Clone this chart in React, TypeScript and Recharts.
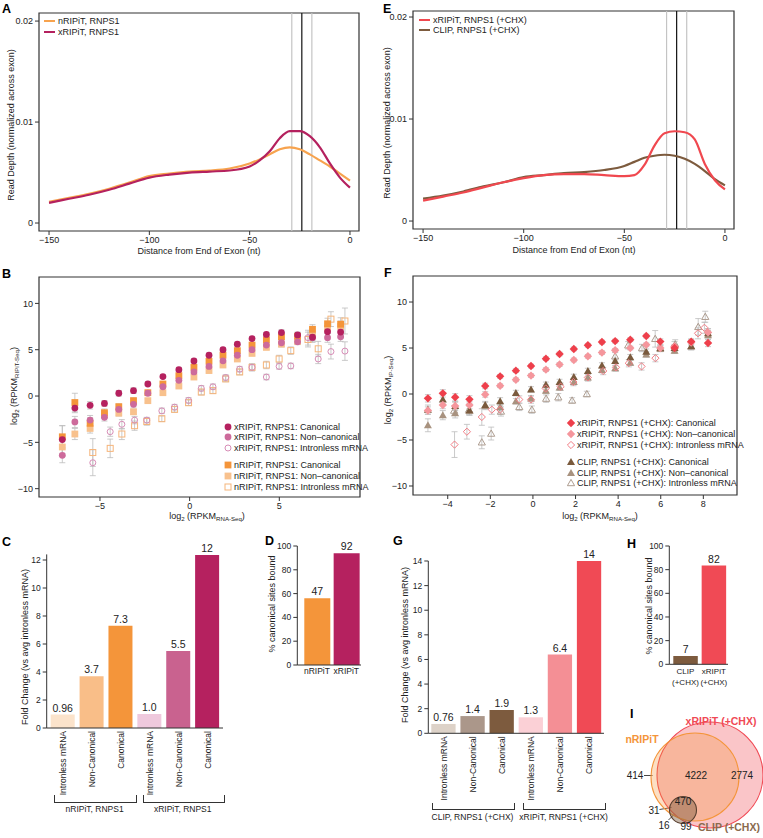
import React from "react";
import {
  LineChart,
  Line,
  XAxis,
  YAxis,
  ReferenceLine,
  ReferenceArea,
  ScatterChart,
  Scatter,
  ErrorBar,
  BarChart,
  Bar,
  Cell,
  LabelList,
} from "recharts";

const FONT = "'Liberation Sans', Arial, Helvetica, sans-serif";
const INK = "#222";

// ---- A / E: read depth near exon end ----
const distX = [-150, -140, -130, -120, -110, -100, -90, -80, -70, -60, -50, -45, -40, -35, -30, -25, -20, -15, -10, -5, 0];
const aNRipit = [0.0021, 0.0025, 0.0029, 0.0034, 0.004, 0.00465, 0.0049, 0.0051, 0.0052, 0.0054, 0.0059, 0.0063, 0.0068, 0.0073, 0.0075, 0.0073, 0.0068, 0.0062, 0.0056, 0.0049, 0.0042];
const aXRipit = [0.002, 0.0024, 0.0028, 0.0033, 0.0039, 0.0045, 0.0048, 0.005, 0.0051, 0.0052, 0.0056, 0.0062, 0.0071, 0.0084, 0.0091, 0.0091, 0.0086, 0.0075, 0.0059, 0.0045, 0.0035];
const eXRipit = [0.002, 0.0024, 0.0028, 0.0033, 0.0038, 0.0042, 0.0045, 0.0046, 0.0046, 0.0045, 0.0044, 0.0045, 0.0055, 0.0074, 0.0086, 0.0088, 0.0087, 0.008, 0.0056, 0.004, 0.0031];
const eClip = [0.0022, 0.0025, 0.0029, 0.0034, 0.0038, 0.0043, 0.0045, 0.0047, 0.0048, 0.005, 0.0054, 0.0058, 0.0062, 0.0064, 0.0065, 0.0064, 0.0061, 0.0056, 0.0049, 0.0041, 0.0035];
const boundaryX = [-29, -24, -19];
const boundaryColors = ["#c4c4c4", "#111", "#c4c4c4"];
const depthTicksX = [-150, -100, -50, 0];
const depthTicksY = [0, 0.01, 0.02];

// ---- B: xRIPiT / nRIPiT vs RNA-Seq ----
const bBinX = [-7.1, -6.4, -5.55, -4.75, -3.95, -3.13, -2.33, -1.49, -0.6, 0.24, 1.08, 1.86, 2.66, 3.48, 4.28, 5.12, 6.02, 6.85, 7.69, 8.42];
const bXCanonY = [-4.7, -1.3, -1.0, -0.8, 0.3, 0.58, 1.3, 2.1, 2.85, 3.78, 4.4, 5.0, 5.6, 6.2, 6.65, 6.85, 6.6, 6.35, 6.95, 6.9];
const bXCanonErr = [1.5, 0.5, 0.4, 0.3, 0.3, 0.3, 0.2, 0.2, 0.2, 0.2, 0.2, 0.2, 0.2, 0.2, 0.2, 0.3, 0.3, 0.5, 0.5, 0.6];
const bXNonY = [-6.4, -2.8, -2.6, -2.3, -1.45, -0.9, 0.3, 1.0, 1.7, 2.6, 3.2, 3.8, 4.4, 5.0, 5.5, 5.75, 5.85, 6.3, 6.3, 6.4];
const bXNonErr = [0.8, 0.6, 0.5, 0.4, 0.3, 0.3, 0.2, 0.2, 0.2, 0.2, 0.2, 0.2, 0.2, 0.2, 0.2, 0.3, 0.3, 0.5, 0.5, 0.5];
const bNCanonY = [-4.4, -0.7, -2.95, -1.8, -1.15, -0.5, 0.36, 1.3, 2.2, 3.1, 3.75, 4.4, 4.9, 5.5, 6.05, 6.4, 6.45, 7.2, 7.8, 7.75];
const bNCanonErr = [1.2, 1.0, 0.6, 0.4, 0.3, 0.3, 0.2, 0.2, 0.2, 0.2, 0.2, 0.2, 0.2, 0.2, 0.3, 0.3, 0.4, 0.5, 0.6, 0.7];
const bNNonY = [-5.5, -4.1, -3.5, -2.0, -1.85, -1.7, -0.5, 0.36, 1.08, 2.05, 2.75, 3.35, 4.0, 4.6, 5.25, 5.6, 5.9, 6.5, 7.3, 7.5];
const bNNonErr = [1.0, 0.6, 0.5, 0.4, 0.3, 0.3, 0.2, 0.2, 0.2, 0.2, 0.2, 0.2, 0.2, 0.2, 0.2, 0.3, 0.3, 0.5, 0.5, 0.6];
const bIntronX = [-5.4, -4.43, -3.78, -3.07, -2.39, -1.55, -0.84, -0.06, 0.65, 1.3, 2.01, 2.79, 3.48, 4.28, 4.99, 5.64, 6.6, 7.17, 7.88, 8.66];
const bXIntronY = [-7.2, -3.85, -3.05, -2.6, -2.6, -1.6, -1.2, -0.47, 0.83, 1.0, 2.0, 2.9, 3.1, 2.05, 3.2, 3.25, 6.3, 4.0, 4.8, 4.85];
const bXIntronErr = [1.4, 0.5, 0.5, 0.4, 0.3, 0.3, 0.3, 0.3, 0.3, 0.3, 0.3, 0.3, 0.3, 0.3, 0.3, 0.3, 0.8, 0.5, 0.8, 1.0];
const bNIntronY = [-6.1, -5.65, -4.1, -3.2, -2.75, -2.45, -1.44, -0.72, 0.43, 0.58, 1.85, 2.6, 3.1, 3.35, 4.0, 4.9, 6.1, 5.1, 8.3, 8.1];
const bNIntronErr = [1.5, 1.0, 0.6, 0.5, 0.4, 0.3, 0.3, 0.3, 0.3, 0.3, 0.3, 0.3, 0.4, 0.4, 0.4, 0.4, 0.8, 0.8, 0.8, 1.4];

// ---- F: xRIPiT / CLIP (+CHX) vs RNA-Seq ----
const fBinX = [-4.93, -4.23, -3.65, -2.98, -2.24, -1.54, -0.8, -0.09, 0.61, 1.25, 1.92, 2.58, 3.24, 3.86, 4.57, 5.32, 5.98, 6.65, 7.43, 8.22];
const fXCanonY = [-0.47, 0.07, -0.36, -0.58, 0.87, 1.92, 2.54, 3.04, 3.84, 4.35, 4.9, 5.3, 5.65, 5.75, 5.9, 6.3, 5.7, 5.0, 5.7, 5.55];
const fXCanonErr = [0.4, 0.4, 0.4, 0.4, 0.3, 0.2, 0.2, 0.2, 0.2, 0.2, 0.2, 0.2, 0.2, 0.2, 0.2, 0.2, 0.3, 0.3, 0.3, 0.4];
const fXNonY = [-1.8, -1.2, -1.3, -1.2, -0.05, 0.9, 1.55, 2.0, 2.65, 3.2, 3.7, 4.1, 4.5, 4.75, 5.0, 5.35, 5.0, 5.1, 5.6, 6.7];
const fXNonErr = [0.4, 0.4, 0.4, 0.4, 0.3, 0.2, 0.2, 0.2, 0.2, 0.2, 0.2, 0.2, 0.2, 0.2, 0.2, 0.2, 0.3, 0.3, 0.3, 0.4];
const fCCanonY = [-1.7, -0.6, -1.3, -1.8, -1.2, -0.8, 0.1, 0.5, 1.0, 1.3, 1.85, 2.5, 3.1, 3.6, 4.0, 4.6, 5.0, 5.0, 5.2, 6.6];
const fCCanonErr = [0.5, 0.5, 0.5, 0.5, 0.4, 0.4, 0.3, 0.3, 0.3, 0.3, 0.3, 0.3, 0.3, 0.3, 0.3, 0.3, 0.3, 0.3, 0.4, 0.5];
const fCNonY = [-3.4, -2.3, -2.1, -1.8, -1.3, -1.4, -0.8, -0.5, 0.35, 0.7, 1.3, 1.8, 2.6, 2.8, 3.4, 4.3, 4.9, 4.7, 5.2, 6.4];
const fCNonErr = [0.7, 0.5, 0.5, 0.5, 0.4, 0.4, 0.3, 0.3, 0.3, 0.3, 0.3, 0.3, 0.3, 0.3, 0.3, 0.3, 0.3, 0.3, 0.4, 0.5];
const fXIntronX = [-3.68, -3.1, -2.4, -1.93, -1.54, -0.64, -0.09, 0.6, 1.3, 1.9, 2.58, 3.3, 3.9, 4.5, 5.1, 5.75, 6.65, 7.75, 8.05];
const fXIntronY = [-5.5, -4.1, -2.5, -1.7, -1.7, -0.6, -0.6, 0.6, 0.8, 1.3, 1.8, 2.5, 2.9, 3.35, 3.0, 3.9, 5.2, 6.6, 7.2];
const fXIntronErr = [1.4, 0.8, 0.9, 0.5, 0.5, 0.4, 0.4, 0.4, 0.4, 0.4, 0.4, 0.4, 0.4, 0.4, 0.4, 0.4, 0.5, 0.6, 0.6];
const fCIntronX = [-3.7, -3.0, -2.4, -1.96, -1.5, -0.64, -0.05, 0.62, 1.19, 1.84, 2.53, 3.86, 4.47, 5.12, 5.74, 6.68, 7.76, 8.09];
const fCIntronY = [-1.8, -1.7, -5.25, -4.3, -1.9, -1.4, -1.7, -0.5, -0.35, -0.7, 0.0, 4.1, 5.3, 5.0, 6.0, 5.4, 7.3, 8.4];
const fCIntronErr = [0.5, 0.5, 0.7, 0.7, 0.5, 0.4, 0.4, 0.4, 0.4, 0.3, 0.3, 0.4, 0.4, 0.4, 0.9, 0.5, 0.9, 0.6];

// ---- C / G: fold change bars ----
const foldCats = ["Intronless mRNA", "Non-Canonical", "Canonical", "Intronless mRNA", "Non-Canonical", "Canonical"];
const cValues = [0.96, 3.7, 7.3, 1.0, 5.5, 12.36];
const cLabels = ["0.96", "3.7", "7.3", "1.0", "5.5", "12"];
const cColors = ["#fbe3cb", "#f9be88", "#f4953a", "#efc9dd", "#c9628f", "#b5215f"];
const cTicks = [0, 2, 4, 6, 8, 10, 12];
const gValues = [0.76, 1.4, 1.9, 1.3, 6.4, 14];
const gLabels = ["0.76", "1.4", "1.9", "1.3", "6.4", "14"];
const gColors = ["#ddd2c8", "#ab978a", "#7d5b3e", "#fbd0d6", "#f48f95", "#f04a55"];
const gTicks = [0, 2, 4, 6, 8, 10, 12, 14];

// ---- D / H: % canonical sites bound ----
const dCats = ["nRIPiT", "xRIPiT"];
const dValues = [56, 94];
const dLabels = ["47", "92"];
const dColors = ["#f4953a", "#b5215f"];
const hCats = ["CLIP|(+CHX)", "xRIPiT|(+CHX)"];
const hValues = [7.1, 83.5];
const hLabels = ["7", "82"];
const hColors = ["#7d5b3e", "#f04a55"];
const pctTicks = [0, 20, 40, 60, 80, 100];

// ---- I: Venn ----
const vennNames = ["xRIPiT (+CHX)", "nRIPiT", "CLIP (+CHX)"];
const vennCX = [90, 75, 63];
const vennCY = [75, 77, 110];
const vennR = [53, 44, 13.5];
const vennFill = ["#f04a55", "#f4953a", "#7d5b3e"];
const vennStroke = ["#f04a55", "#f4953a", "#5a4030"];
const vennText = ["#f04a55", "#f4953a", "#8a6a4e"];
const vennFillOp = [0.32, 0.3, 0.45];
const vennNameX = [101, 22, 109];
const vennNameY = [21, 39, 126.5];
const vennCounts = ["414", "4222", "2774", "470", "31", "16", "99"];
const vennCountX = [15, 76, 122, 63, 34, 44, 66];
const vennCountY = [75.5, 75.5, 75.5, 101, 110, 125, 126];
const vennLeaders = [
  [24, 75.5, 32.5, 75.5],
  [39.5, 109.5, 51.5, 107.5],
  [48.5, 120, 54, 114.5],
  [66, 120.5, 63.5, 123.5],
];

const minus = (v: number) => String(v).replace("-", "\u2212");
const tickStyle = { fontSize: 9, fill: INK, fontFamily: FONT };

type Kind = "circle" | "ocircle" | "square" | "osquare" | "diamond" | "odiamond" | "triangle" | "otriangle";

function Marker({ kind, color, cx, cy }: { kind: Kind; color: string; cx: number; cy: number }) {
  const open = kind.startsWith("o");
  const fill = open ? "none" : color;
  const stroke = open ? color : "none";
  const sw = open ? 1 : 0;
  if (kind === "circle" || kind === "ocircle") {
    return <circle cx={cx} cy={cy} r={open ? 3 : 3.4} fill={fill} stroke={stroke} strokeWidth={sw} />;
  }
  if (kind === "square" || kind === "osquare") {
    const h = open ? 3 : 3.4;
    return <rect x={cx - h} y={cy - h} width={2 * h} height={2 * h} fill={fill} stroke={stroke} strokeWidth={sw} />;
  }
  if (kind === "diamond" || kind === "odiamond") {
    const h = open ? 3.6 : 4.2;
    return <path d={`M${cx},${cy - h}L${cx + h},${cy}L${cx},${cy + h}L${cx - h},${cy}Z`} fill={fill} stroke={stroke} strokeWidth={sw} />;
  }
  const h = open ? 3.6 : 4;
  return <path d={`M${cx},${cy - h}L${cx + h},${cy + h * 0.75}L${cx - h},${cy + h * 0.75}Z`} fill={fill} stroke={stroke} strokeWidth={sw} />;
}

type Series = { name: string; kind: Kind; color: string; xs: number[]; ys: number[]; es: number[] };

const bSeries: Series[] = [
  { name: "xRIPiT, RNPS1: Canonical", kind: "circle", color: "#b5215f", xs: bBinX, ys: bXCanonY, es: bXCanonErr },
  { name: "xRIPiT, RNPS1: Non\u2013canonical", kind: "circle", color: "#cd6a9b", xs: bBinX, ys: bXNonY, es: bXNonErr },
  { name: "xRIPiT, RNPS1: Intronless mRNA", kind: "ocircle", color: "#d78cb6", xs: bIntronX, ys: bXIntronY, es: bXIntronErr },
  { name: "nRIPiT, RNPS1: Canonical", kind: "square", color: "#f4953a", xs: bBinX, ys: bNCanonY, es: bNCanonErr },
  { name: "nRIPiT, RNPS1: Non\u2013canonical", kind: "square", color: "#f8c18d", xs: bBinX, ys: bNNonY, es: bNNonErr },
  { name: "nRIPiT, RNPS1: Intronless mRNA", kind: "osquare", color: "#f6b57a", xs: bIntronX, ys: bNIntronY, es: bNIntronErr },
];

const fSeries: Series[] = [
  { name: "xRIPiT, RNPS1 (+CHX): Canonical", kind: "diamond", color: "#ee3f4b", xs: fBinX, ys: fXCanonY, es: fXCanonErr },
  { name: "xRIPiT, RNPS1 (+CHX): Non\u2013canonical", kind: "diamond", color: "#f5969c", xs: fBinX, ys: fXNonY, es: fXNonErr },
  { name: "xRIPiT, RNPS1 (+CHX): Intronless mRNA", kind: "odiamond", color: "#f27c84", xs: fXIntronX, ys: fXIntronY, es: fXIntronErr },
  { name: "CLIP, RNPS1 (+CHX): Canonical", kind: "triangle", color: "#7a5a3d", xs: fBinX, ys: fCCanonY, es: fCCanonErr },
  { name: "CLIP, RNPS1 (+CHX): Non\u2013canonical", kind: "triangle", color: "#a8927f", xs: fBinX, ys: fCNonY, es: fCNonErr },
  { name: "CLIP, RNPS1 (+CHX): Intronless mRNA", kind: "otriangle", color: "#ae9d90", xs: fCIntronX, ys: fCIntronY, es: fCIntronErr },
];

function Txt({ x, y, children, size = 9, rot = 0, bold = false, color = INK, start = false }: any) {
  return (
    <div
      style={{
        position: "absolute",
        left: x,
        top: y,
        transform: `translate(${start ? "0" : "-50%"},-50%) rotate(${rot}deg)`,
        fontSize: size,
        fontWeight: bold ? 700 : 400,
        color,
        whiteSpace: "nowrap",
        lineHeight: 1,
        fontFamily: FONT,
      }}
    >
      {children}
    </div>
  );
}

const Sub = ({ children }: any) => (
  <span style={{ fontSize: "0.68em", verticalAlign: "-0.3em" }}>{children}</span>
);

function ScatterLegend({ series, x, ys }: { series: Series[]; x: number; ys: number[] }) {
  return (
    <>
      {series.map((s, i) => (
        <div key={s.name}>
          <svg style={{ position: "absolute", left: x - 6, top: ys[i] - 6 }} width={12} height={12}>
            <Marker kind={s.kind} color={s.color} cx={6} cy={6} />
          </svg>
          <Txt x={x + 6} y={ys[i]} start size={9}>
            {s.name}
          </Txt>
        </div>
      ))}
    </>
  );
}

function LineLegend({ items, x, ys }: { items: { name: string; color: string }[]; x: number; ys: number[] }) {
  return (
    <>
      {items.map((it, i) => (
        <div key={it.name}>
          <div style={{ position: "absolute", left: x, top: ys[i] - 1, width: 11, height: 2.2, background: it.color }} />
          <Txt x={x + 14} y={ys[i]} start size={9}>
            {it.name}
          </Txt>
        </div>
      ))}
    </>
  );
}

function DepthPanel({ left, top, width, height, margin, yDomain, a, b }: any) {
  const data = distX.map((x, i) => ({ x, a: a.values[i], b: b.values[i] }));
  return (
    <div style={{ position: "absolute", left, top }}>
      <LineChart width={width} height={height} margin={margin} data={data}>
        <XAxis type="number" dataKey="x" domain={[-155, 4.5]} ticks={depthTicksX} allowDataOverflow height={30}
          axisLine={false} tickSize={4} tickMargin={2} tick={tickStyle} tickLine={{ stroke: "#333" }} tickFormatter={minus} />
        <YAxis type="number" domain={yDomain} ticks={depthTicksY} allowDataOverflow width={30}
          axisLine={false} tickSize={4} tickMargin={2} tick={tickStyle} tickLine={{ stroke: "#333" }} tickFormatter={minus} />
        {boundaryX.map((bx, i) => (
          <ReferenceLine key={bx} x={bx} stroke={boundaryColors[i]} strokeWidth={1.2} />
        ))}
        <Line type="monotone" dataKey="a" stroke={a.color} strokeWidth={2.2} dot={false} isAnimationActive={false} />
        <Line type="monotone" dataKey="b" stroke={b.color} strokeWidth={2.2} dot={false} isAnimationActive={false} />
        <ReferenceArea x1={-155} x2={4.5} y1={yDomain[0]} y2={yDomain[1]} fill="none" fillOpacity={0} stroke="#333" strokeWidth={1.2} />
      </LineChart>
    </div>
  );
}

function ScatterPanel({ left, top, width, height, margin, xDomain, yDomain, xTicks, series }: any) {
  return (
    <div style={{ position: "absolute", left, top }}>
      <ScatterChart width={width} height={height} margin={margin}>
        <XAxis type="number" dataKey="x" domain={xDomain} ticks={xTicks} allowDataOverflow height={28}
          axisLine={false} tickSize={4} tickMargin={2} tick={tickStyle} tickLine={{ stroke: "#333" }} tickFormatter={minus} />
        <YAxis type="number" dataKey="y" domain={yDomain} ticks={[-10, -5, 0, 5, 10]} allowDataOverflow width={30}
          axisLine={false} tickSize={4} tickMargin={2} tick={tickStyle} tickLine={{ stroke: "#333" }} tickFormatter={minus} />
        {[...series].reverse().map((s: Series) => (
          <Scatter
            key={s.name}
            data={s.xs.map((x, i) => ({ x, y: s.ys[i], e: s.es[i] }))}
            isAnimationActive={false}
            shape={(p: any) => <Marker kind={s.kind} color={s.color} cx={p.cx} cy={p.cy} />}
          >
            <ErrorBar dataKey="e" direction="y" width={3} stroke="#bdbdbd" strokeWidth={0.8} />
          </Scatter>
        ))}
        <ReferenceArea x1={xDomain[0]} x2={xDomain[1]} y1={yDomain[0]} y2={yDomain[1]} fill="none" fillOpacity={0} stroke="#333" strokeWidth={1.2} />
      </ScatterChart>
    </div>
  );
}

const RotTick = (p: any) => (
  <text transform={`translate(${p.x},${p.y}) rotate(-90)`} textAnchor="end" dominantBaseline="central"
    fontSize={8.5} fill={INK} fontFamily={FONT}>
    {p.payload.value}
  </text>
);

const TwoLineTick = (p: any) => {
  const parts = String(p.payload.value).split("|");
  return (
    <text x={p.x} y={p.y} textAnchor="middle" fontSize={8} fill={INK} fontFamily={FONT}>
      {parts.map((t, i) => (
        <tspan key={i} x={p.x} dy={i === 0 ? 7 : 11}>{t}</tspan>
      ))}
    </text>
  );
};

function BarPanel({ left, top, width, height, margin, cats, values, labels, colors, domain, ticks, xHeight, tick, padding, barSize }: any) {
  const data = cats.map((c: string, i: number) => ({ c, v: values[i], l: labels[i] }));
  return (
    <div style={{ position: "absolute", left, top }}>
      <BarChart width={width} height={height} margin={margin} data={data}>
        <XAxis dataKey="c" interval={0} height={xHeight} tick={tick} tickLine={false} tickSize={2} tickMargin={1}
          axisLine={{ stroke: "#333" }} padding={padding} />
        <YAxis type="number" domain={domain} ticks={ticks} width={30} tickSize={4} tickMargin={2} tick={{ ...tickStyle, fontSize: 8.5 }}
          tickLine={{ stroke: "#333" }} axisLine={{ stroke: "#333" }} />
        <Bar dataKey="v" barSize={barSize} isAnimationActive={false}>
          {data.map((d: any, i: number) => (
            <Cell key={i} fill={colors[i]} />
          ))}
          <LabelList dataKey="l" position="top" offset={3} fontSize={10.5} fill={INK} fontFamily={FONT} />
        </Bar>
      </BarChart>
    </div>
  );
}

function Bracket({ x, w, y, h, label, ly }: any) {
  return (
    <>
      <div style={{ position: "absolute", left: x, top: y, width: w, height: h, borderLeft: "1px solid #333", borderRight: "1px solid #333", borderBottom: "1px solid #333" }} />
      <Txt x={x + w / 2} y={ly} size={8.5}>{label}</Txt>
    </>
  );
}

function VennPanel() {
  const W = 143;
  const H = 138;
  const k = W / 143;
  const circles = vennNames.map((n, i) => ({ x: vennCX[i], y: vennCY[i], r: vennR[i], i }));
  const counts = vennCounts.map((t, i) => ({ x: vennCountX[i], y: vennCountY[i], t }));
  const names = vennNames.map((t, i) => ({ x: vennNameX[i], y: vennNameY[i], t, i }));
  return (
    <div style={{ position: "absolute", left: 620, top: 700 }}>
      <ScatterChart width={W} height={H} margin={{ top: 0, right: 0, bottom: 0, left: 0 }}>
        <XAxis type="number" dataKey="x" domain={[0, 143]} hide allowDataOverflow />
        <YAxis type="number" dataKey="y" domain={[0, 138]} reversed hide allowDataOverflow />
        <Scatter
          data={circles}
          isAnimationActive={false}
          shape={(p: any) => {
            const i = p.payload.i;
            return (
              <circle cx={p.cx} cy={p.cy} r={p.payload.r * k} fill={vennFill[i]} fillOpacity={vennFillOp[i]}
                stroke={vennStroke[i]} strokeWidth={1.1} />
            );
          }}
        />
        {vennLeaders.map((s, i) => (
          <ReferenceLine key={i} segment={[{ x: s[0], y: s[1] }, { x: s[2], y: s[3] }]} stroke="#333" strokeWidth={0.9} />
        ))}
        <Scatter
          data={counts}
          isAnimationActive={false}
          shape={(p: any) => (
            <text x={p.cx} y={p.cy} textAnchor="middle" dominantBaseline="central" fontSize={10} fill={INK} fontFamily={FONT}>
              {p.payload.t}
            </text>
          )}
        />
        <Scatter
          data={names}
          isAnimationActive={false}
          shape={(p: any) => (
            <text x={p.cx} y={p.cy} textAnchor="middle" dominantBaseline="central" fontSize={10.5} fontWeight={700}
              fill={vennText[p.payload.i]} fontFamily={FONT}>
              {p.payload.t}
            </text>
          )}
        />
      </ScatterChart>
    </div>
  );
}

export default function App() {
  return (
    <div style={{ position: "absolute", left: 0, top: 0, width: 763, height: 838, background: "#fff", overflow: "hidden", fontFamily: FONT }}>
      {/* A */}
      <DepthPanel left={0} top={0} width={380} height={262} margin={{ top: 13, right: 21, bottom: 1, left: 9 }}
        yDomain={[-0.00079, 0.0208]}
        a={{ values: aNRipit, color: "#f7a34e" }} b={{ values: aXRipit, color: "#b4215e" }} />
      <LineLegend items={[{ name: "nRIPiT, RNPS1", color: "#f7a34e" }, { name: "xRIPiT, RNPS1", color: "#b4215e" }]} x={44} ys={[21, 32]} />
      <Txt x={199} y={251}>Distance from End of Exon (nt)</Txt>
      <Txt x={11} y={125} rot={-90}>Read Depth (normalized across exon)</Txt>

      {/* E */}
      <DepthPanel left={380} top={0} width={383} height={260} margin={{ top: 11, right: 29, bottom: 1, left: 3 }}
        yDomain={[-0.00078, 0.02059]}
        a={{ values: eClip, color: "#7d5b3e" }} b={{ values: eXRipit, color: "#f0484f" }} />
      <LineLegend items={[{ name: "xRIPiT, RNPS1 (+CHX)", color: "#f0484f" }, { name: "CLIP, RNPS1 (+CHX)", color: "#7d5b3e" }]} x={419} ys={[19.5, 30]} />
      <Txt x={574} y={250}>Distance from End of Exon (nt)</Txt>
      <Txt x={387} y={123} rot={-90}>Read Depth (normalized across exon)</Txt>

      {/* B */}
      <ScatterPanel left={0} top={262} width={380} height={263} margin={{ top: 15, right: 20, bottom: 0, left: 9 }}
        xDomain={[-8.4, 9.5]} yDomain={[-10.9, 12.85]} xTicks={[-5, 0, 5]} series={bSeries} />
      <ScatterLegend series={bSeries} x={228} ys={[426.7, 437.3, 448.3, 465, 476, 487]} />
      <Txt x={207} y={517}>log<Sub>2</Sub> (RPKM<Sub>RNA-Seq</Sub>)</Txt>
      <Txt x={15} y={386} rot={-90}>log<Sub>2</Sub> (RPKM<Sub>RIPiT-Seq</Sub>)</Txt>

      {/* F */}
      <ScatterPanel left={380} top={262} width={383} height={261} margin={{ top: 14, right: 26, bottom: 0, left: 3 }}
        xDomain={[-5.63, 9.58]} yDomain={[-10.98, 12.83]} xTicks={[-4, -2, 0, 2, 4, 6, 8]} series={fSeries} />
      <ScatterLegend series={fSeries} x={571} ys={[423.3, 434, 445, 461.7, 472.7, 483.3]} />
      <Txt x={600} y={517}>log<Sub>2</Sub> (RPKM<Sub>RNA-Seq</Sub>)</Txt>
      <Txt x={389} y={390} rot={-90}>log<Sub>2</Sub> (RPKM<Sub>IP-Seq</Sub>)</Txt>

      {/* C */}
      <BarPanel left={0} top={540} width={240} height={258} margin={{ top: 14.4, right: 17, bottom: 0, left: 16.7 }}
        cats={foldCats} values={cValues} labels={cLabels} colors={cColors} domain={[0, 12.4]} ticks={cTicks}
        xHeight={70} tick={<RotTick />} padding={{ left: 2, right: 1 }} barSize={24} />
      <Txt x={25} y={647} rot={-90}>Fold Change (vs avg intronless mRNA)</Txt>
      <Bracket x={54.3} w={80.7} y={795} h={7} label="nRIPiT, RNPS1" ly={809} />
      <Bracket x={142.7} w={80} y={795} h={7} label="xRIPiT, RNPS1" ly={809} />

      {/* D */}
      <BarPanel left={250} top={535} width={120} height={150} margin={{ top: 11, right: 9, bottom: 0, left: 17.3 }}
        cats={dCats} values={dValues} labels={dLabels} colors={dColors} domain={[0, 100]} ticks={pctTicks}
        xHeight={20} tick={{ ...tickStyle, fontSize: 8.5 }} padding={{ left: 5, right: 0 }} barSize={26} />
      <Txt x={272} y={604} rot={-90}>% canonical sites bound</Txt>

      {/* G */}
      <BarPanel left={380} top={545} width={240} height={258.3} margin={{ top: 16, right: 16, bottom: 0, left: 18.3 }}
        cats={foldCats} values={gValues} labels={gLabels} colors={gColors} domain={[0, 14]} ticks={gTicks}
        xHeight={70} tick={<RotTick />} padding={{ left: 1, right: 0 }} barSize={24.3} />
      <Txt x={405} y={645} rot={-90}>Fold Change (vs avg intronless mRNA)</Txt>
      <Bracket x={431.7} w={81.6} y={803} h={6} label="CLIP, RNPS1 (+CHX)" ly={817} />
      <Bracket x={523.3} w={80.7} y={803} h={6} label="xRIPiT, RNPS1 (+CHX)" ly={817} />

      {/* H */}
      <BarPanel left={620} top={535} width={120} height={159.3} margin={{ top: 11, right: 12, bottom: 0, left: 19.3 }}
        cats={hCats} values={hValues} labels={hLabels} colors={hColors} domain={[0, 100]} ticks={pctTicks}
        xHeight={30} tick={<TwoLineTick />} padding={{ left: 2, right: 0 }} barSize={24.5} />
      <Txt x={649} y={606} rot={-90}>% canonical sites bound</Txt>

      {/* I */}
      <VennPanel />

      {/* panel letters */}
      <Txt x={2} y={9} start size={12.5} bold color="#000">A</Txt>
      <Txt x={383} y={9} start size={12.5} bold color="#000">E</Txt>
      <Txt x={2} y={274} start size={12.5} bold color="#000">B</Txt>
      <Txt x={384} y={273} start size={12.5} bold color="#000">F</Txt>
      <Txt x={2} y={542} start size={12.5} bold color="#000">C</Txt>
      <Txt x={265} y={541} start size={12.5} bold color="#000">D</Txt>
      <Txt x={393} y={541} start size={12.5} bold color="#000">G</Txt>
      <Txt x={627} y={544} start size={12.5} bold color="#000">H</Txt>
      <Txt x={630} y={714} start size={12.5} bold color="#000">I</Txt>
    </div>
  );
}
